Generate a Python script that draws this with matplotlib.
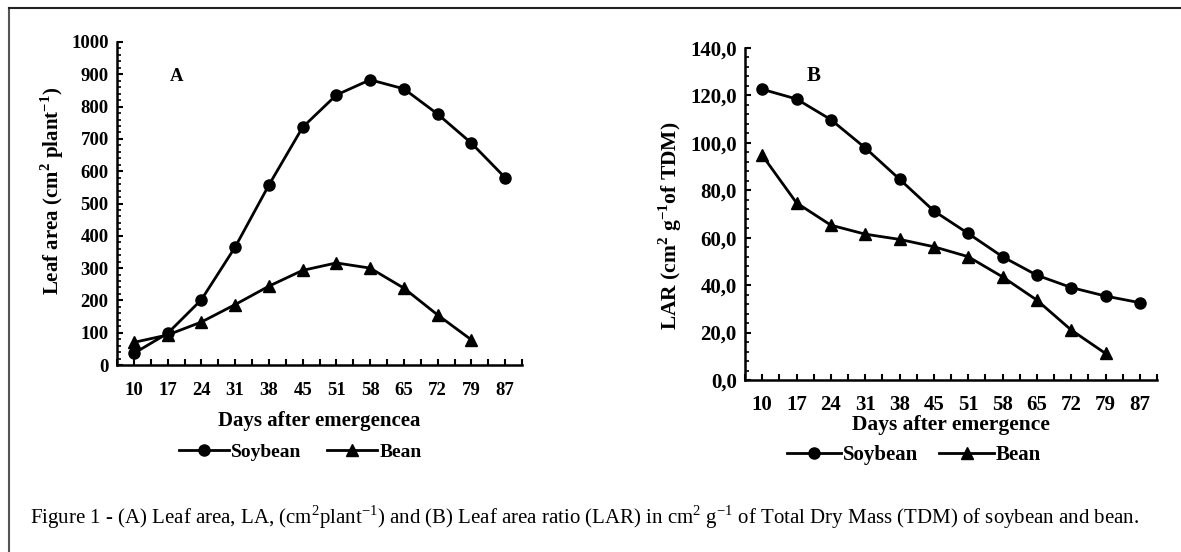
import numpy as np
import matplotlib
matplotlib.use("Agg")
import matplotlib.pyplot as plt
from matplotlib.lines import Line2D
from matplotlib.ticker import MultipleLocator

plt.rcParams["font.family"] = ["Liberation Serif", "DejaVu Serif"]
plt.rcParams["mathtext.fontset"] = "custom"
plt.rcParams["mathtext.rm"] = "Liberation Serif"
plt.rcParams["mathtext.bf"] = "Liberation Serif:bold"

# Data
days = ["10", "17", "24", "31", "38", "45", "51", "58", "65", "72", "79", "87"]
la_soy = [36, 98, 202, 365, 557, 736, 836, 883, 855, 777, 687, 580]
la_bean = [70, 93, 133, 187, 244, 293, 316, 300, 238, 155, 78]
lar_soy = [122.6, 118.5, 109.8, 97.9, 84.7, 71.3, 61.8, 52.0, 44.2, 39.0, 35.4, 32.6]
lar_bean = [94.8, 74.7, 65.3, 61.5, 59.3, 56.2, 52.0, 43.5, 33.7, 21.1, 11.2]

W, H = 1181, 552
fig = plt.figure(figsize=(W / 100, H / 100), dpi=100)

# outer frame (left + top lines)
fig.add_artist(Line2D([9 / W, 9 / W], [0, 1 - 8 / H], color="#555555", lw=1.5))
fig.add_artist(Line2D([9 / W, 1], [1 - 8 / H, 1 - 8 / H], color="#222222", lw=1.5))


def panel(rect, soy, bean, ymax, ymajor, yminor, fmt, ylabel, xlabel, letter, letter_xy,
          xtick_pad, xlab_pad, ylab_y, fs_tick, fs_lab):
    ax = fig.add_axes(rect)
    x = np.arange(len(days))
    ax.plot(x[:len(soy)], soy, color="black", lw=2, marker="o", ms=8, label="Soybean")
    ax.plot(x[:len(bean)], bean, color="black", lw=2, marker="^", ms=8.5, label="Bean")
    ax.set_xlim(-0.5, len(days) - 0.5)
    ax.set_ylim(0, ymax)
    ax.set_xticks(x)
    ax.set_xticklabels(days, fontweight="bold", fontsize=fs_tick)
    ax.xaxis.set_minor_locator(MultipleLocator(0.5))
    ax.yaxis.set_minor_locator(MultipleLocator(yminor))
    yt = np.arange(0, ymax + ymajor / 2, ymajor)
    ax.set_yticks(yt)
    ax.set_yticklabels([fmt(v) for v in yt], fontweight="bold", fontsize=fs_tick)
    ax.tick_params(axis="x", which="both", direction="in", length=4, width=1.5, pad=xtick_pad, bottom=True)
    ax.tick_params(axis="y", which="major", direction="in", length=4, width=1.5, pad=6)
    ax.tick_params(axis="y", which="minor", direction="in", length=3, width=1.2)
    for s in ["top", "right"]:
        ax.spines[s].set_visible(False)
    for s in ["left", "bottom"]:
        ax.spines[s].set_linewidth(1.8)
    ax.set_ylabel(ylabel, fontweight="bold", fontsize=fs_lab, labelpad=4)
    ax.yaxis.label.set_y(ylab_y)
    ax.set_xlabel(xlabel, fontweight="bold", fontsize=fs_lab, labelpad=xlab_pad)
    ax.text(letter_xy[0], letter_xy[1], letter, transform=ax.transAxes,
            fontweight="bold", fontsize=fs_tick)
    return ax


axA = panel([117 / W, 1 - 365 / H, 405 / W, 323 / H], la_soy, la_bean, 1000, 100, 20,
            lambda v: f"{int(v)}",
            r"Leaf area (cm$^{\mathbf{2}}$ plant$^{\mathbf{-1}}$)",
            "Days after emergencea", "A", (0.13, 0.88), 12, 9, 0.54, 13.5, 15)
axB = panel([745 / W, 1 - 380 / H, 412 / W, 332 / H], lar_soy, lar_bean, 140, 20, 4,
            lambda v: f"{v:.1f}".replace(".", ","),
            r"LAR (cm$^{\mathbf{2}}$ g$^{\mathbf{-1}}$of TDM)",
            "Days after emergence", "B", (0.15, 0.90), 11, 0, 0.465, 15, 15.5)

for ax, xc, yc, fs, cs in [(axA, 300, 452, 14, 1.3), (axB, 914, 455, 15, 1.0)]:
    h, l = ax.get_legend_handles_labels()
    fig.legend(h, l, loc="center", bbox_to_anchor=(xc / W, 1 - yc / H), ncol=2, frameon=False,
               prop=dict(weight="bold", size=fs), handlelength=2.6, columnspacing=cs,
               handletextpad=0.1)

fig.text(30 / W, 1 - 517 / H,
         r"Figure 1 - (A) Leaf area, LA, (cm$^{\mathrm{2}}$plant$^{\mathrm{-1}}$) and (B) Leaf area ratio (LAR) "
         r"in cm$^{\mathrm{2}}$ g$^{\mathrm{-1}}$ of Total Dry Mass (TDM) of soybean and bean.",
         fontsize=15, va="center", ha="left")

fig.savefig("out.png", dpi=100)
